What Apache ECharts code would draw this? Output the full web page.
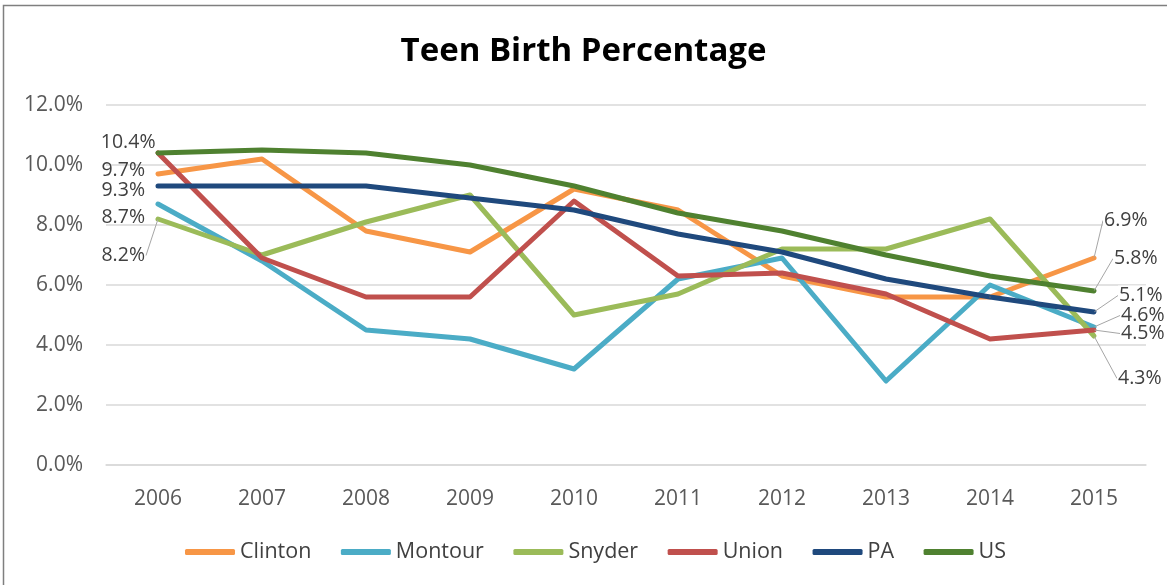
<!DOCTYPE html>
<html>
<head>
<meta charset="utf-8">
<script src="https://cdn.jsdelivr.net/npm/echarts@6/dist/echarts.min.js"></script>
<style>
  html, body { margin: 0; padding: 0; background: #fff; }
  #chart { width: 1167px; height: 585px; }
</style>
</head>
<body>
<div id="chart"></div>
<script>
// Teen birth percentage by area, 2006-2015
const years   = ['2006', '2007', '2008', '2009', '2010', '2011', '2012', '2013', '2014', '2015'];
const clinton = [9.7, 10.2, 7.8, 7.1, 9.2, 8.5, 6.3, 5.6, 5.6, 6.9];
const montour = [8.7, 6.8, 4.5, 4.2, 3.2, 6.2, 6.9, 2.8, 6.0, 4.6];
const snyder  = [8.2, 7.0, 8.1, 9.0, 5.0, 5.7, 7.2, 7.2, 8.2, 4.3];
const union   = [10.4, 6.9, 5.6, 5.6, 8.8, 6.3, 6.4, 5.7, 4.2, 4.5];
const pa      = [9.3, 9.3, 9.3, 8.9, 8.5, 7.7, 7.1, 6.2, 5.6, 5.1];
const us      = [10.4, 10.5, 10.4, 10.0, 9.3, 8.4, 7.8, 7.0, 6.3, 5.8];

// y axis: 0% to 12% in steps of 2
const yMin = 0, yMax = 12, yStep = 2;

const FONT = '"Open Sans", "Liberation Sans", sans-serif';
const TEXT = '#404040';

// Styling for each line, plus nudges for its first/last value labels
const lines = [
  { name: 'Clinton', values: clinton, color: '#F79646',
    first: { dx: -6.5, dy: -4 },  last: { dx: 3.5,  dy: -37.5, guide: true } },
  { name: 'Montour', values: montour, color: '#4BACC6',
    first: { dx: -6.5, dy: 13 },  last: { dx: 20.5, dy: -11.5, guide: true } },
  { name: 'Snyder',  values: snyder,  color: '#9BBB59',
    first: { dx: -6.5, dy: 36.5, guide: true }, last: { dx: 17.5, dy: 42.5, guide: true } },
  { name: 'Union',   values: union,   color: '#C0504D',
    first: null,                  last: { dx: 20.5, dy: 3.5,  guide: true } },
  { name: 'PA',      values: pa,      color: '#1F497D',
    first: { dx: -6.5, dy: 4.5 }, last: { dx: 18.5, dy: -16.5, guide: true } },
  { name: 'US',      values: us,      color: '#4F8130',
    first: { dx: 4,    dy: -11 }, last: { dx: 13.5, dy: -32.5, guide: true } }
];

const pct = v => v.toFixed(1) + '%';

function buildSeries(def) {
  const lastIdx = def.values.length - 1;
  const data = def.values.map((v, i) => {
    const cfg = i === 0 ? def.first : (i === lastIdx ? def.last : null);
    if (!cfg) return v;
    return {
      value: v,
      label: {
        show: true,
        position: i === 0 ? 'left' : 'right',
        distance: 5,
        formatter: p => pct(p.value),
        color: TEXT,
        fontFamily: FONT,
        fontSize: 19.5,
        backgroundColor: i === 0 ? 'transparent' : '#fff',
        padding: [0, 1]
      },
      labelLine: {
        show: !!cfg.guide,
        lineStyle: { color: '#a6a6a6', width: 1 }
      }
    };
  });
  return {
    name: def.name,
    type: 'line',
    data: data,
    color: def.color,
    showSymbol: true,
    symbol: 'circle',
    symbolSize: 1,
    itemStyle: { color: def.color },
    lineStyle: { color: def.color, width: 5, cap: 'round', join: 'round' },
    label: { show: false },
    emphasis: { disabled: true },
    labelLayout: params => {
      const cfg = params.dataIndex === 0 ? def.first : def.last;
      return cfg ? { dx: cfg.dx, dy: cfg.dy } : {};
    }
  };
}

const chart = echarts.init(document.getElementById('chart'), null, { renderer: 'canvas' });

chart.setOption({
  animation: false,
  backgroundColor: '#fff',
  title: {
    text: 'Teen Birth Percentage',
    left: 'center',
    top: 30,
    textStyle: { fontFamily: FONT, fontWeight: 'bold', fontSize: 33, color: '#000' }
  },
  grid: { left: 106, right: 21, top: 105, bottom: 120, containLabel: false },
  xAxis: {
    type: 'category',
    data: years,
    boundaryGap: true,
    axisLine: { show: true, lineStyle: { color: '#d9d9d9', width: 1.5 } },
    axisTick: { show: false },
    axisLabel: { color: '#595959', fontFamily: FONT, fontSize: 21, margin: 24 },
    splitLine: { show: false }
  },
  yAxis: {
    type: 'value',
    min: yMin,
    max: yMax,
    interval: yStep,
    axisLine: { show: false },
    axisTick: { show: false },
    axisLabel: { color: '#595959', fontFamily: FONT, fontSize: 21, margin: 23,
                 formatter: v => pct(v) },
    splitLine: { show: true, lineStyle: { color: '#d9d9d9', width: 1.5 } }
  },
  legend: {
    data: lines.map(l => l.name),
    left: 180,
    top: 536,
    icon: 'roundRect',
    itemWidth: 50,
    itemHeight: 6,
    itemGap: 29.5,
    textStyle: { color: TEXT, fontFamily: FONT, fontSize: 21.5 }
  },
  graphic: [{
    type: 'rect',
    silent: true,
    shape: { x: 3.5, y: 5.5, width: 1300, height: 700 },
    style: { fill: 'none', stroke: '#7f7f7f', lineWidth: 1.5 }
  }],
  series: lines.map(buildSeries)
});
</script>
</body>
</html>
